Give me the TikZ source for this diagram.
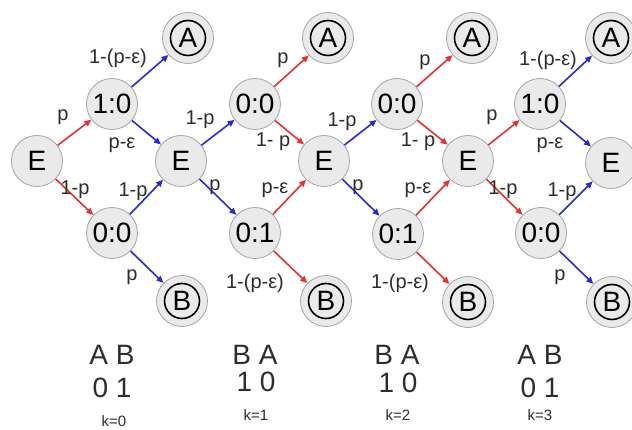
\documentclass[tikz,border=0pt]{standalone}
\usepackage{fontspec}
\setmainfont{Liberation Sans}
\usetikzlibrary{arrows.meta}
\definecolor{ered}{RGB}{232,48,48}
\definecolor{eblue}{RGB}{40,40,228}
\definecolor{nfill}{RGB}{234,234,234}
\definecolor{nedge}{RGB}{165,165,165}
\definecolor{ltxt}{RGB}{45,45,45}
\begin{document}
\begin{tikzpicture}[x=1pt,y=-1pt,
  st/.style={circle,draw=nedge,fill=nfill,line width=0.8pt,minimum size=51pt,inner sep=0pt,font=\fontsize{28}{28}\selectfont},
  term/.style={st,path picture={\draw[black,line width=1.6pt] (path picture bounding box.center) circle (17.5pt);}},
  redarr/.style={draw=ered,line width=1.6pt,-{Triangle[length=7pt,width=6pt]}},
  bluearr/.style={draw=eblue,line width=1.6pt,-{Triangle[length=7pt,width=6pt]}},
  lbl/.style={font=\fontsize{20}{20}\selectfont,text=ltxt,inner sep=0pt},
  big/.style={font=\fontsize{28}{28}\selectfont,text=ltxt,inner sep=0pt},
  kk/.style={font=\fontsize{15}{15}\selectfont,text=ltxt,inner sep=0pt}]
\fill[white] (0,0) rectangle (632,430);
\useasboundingbox (0,0) rectangle (632,430);
% nodes
\node[st] (E0) at (37,161) {E};
\node[st] (T0) at (112,104) {1:0};
\node[st] (D0) at (112,233) {0:0};
\node[term] (A0) at (188,38) {A};
\node[term] (B0) at (182,301) {B};
\node[st] (E1) at (181,161) {E};
\node[st] (T1) at (255,104) {0:0};
\node[st] (D1) at (255,233) {0:1};
\node[term] (A1) at (328,38) {A};
\node[term] (B1) at (326,301) {B};
\node[st] (E2) at (324,161) {E};
\node[st] (T2) at (397,104) {0:0};
\node[st] (D2) at (398,234) {0:1};
\node[term] (A2) at (472,38) {A};
\node[term] (B2) at (468,302) {B};
\node[st] (E3) at (468,161) {E};
\node[st] (T3) at (540,104) {1:0};
\node[st] (D3) at (541,233) {0:0};
\node[term] (A3) at (611,38) {A};
\node[term] (B3) at (612,302) {B};
\node[st] (E4) at (611,163) {E};
% segment 0
\draw[redarr] (E0) -- (T0);
\draw[redarr] (E0) -- (D0);
\draw[bluearr] (T0) -- (A0);
\draw[bluearr] (T0) -- (E1);
\draw[bluearr] (D0) -- (E1);
\draw[bluearr] (D0) -- (B0);
% segment 1
\draw[bluearr] (E1) -- (T1);
\draw[bluearr] (E1) -- (D1);
\draw[redarr] (T1) -- (A1);
\draw[redarr] (T1) -- (E2);
\draw[redarr] (D1) -- (E2);
\draw[redarr] (D1) -- (B1);
% segment 2
\draw[bluearr] (E2) -- (T2);
\draw[bluearr] (E2) -- (D2);
\draw[redarr] (T2) -- (A2);
\draw[redarr] (T2) -- (E3);
\draw[redarr] (D2) -- (E3);
\draw[redarr] (D2) -- (B2);
% segment 3
\draw[redarr] (E3) -- (T3);
\draw[redarr] (E3) -- (D3);
\draw[bluearr] (T3) -- (A3);
\draw[bluearr] (T3) -- (E4);
\draw[bluearr] (D3) -- (E4);
\draw[bluearr] (D3) -- (B3);
% labels
\node[lbl] (l1) at (63,117) {p};
\node[lbl] (l2) at (75,190) {1-p};
\node[lbl] (l3) at (118,58) {1-(p-ε)};
\node[lbl] (l4) at (122,145) {p-ε};
\node[lbl] (l5) at (133,192) {1-p};
\node[lbl] (l6) at (132,277) {p};
\node[lbl] (l7) at (200,120) {1-p};
\node[lbl] (l8) at (215,187) {p};
\node[lbl] (l9) at (283,60) {p};
\node[lbl] (l10) at (273,142) {1- p};
\node[lbl] (l11) at (275,190) {p-ε};
\node[lbl] (l12) at (255,283) {1-(p-ε)};
\node[lbl] (l13) at (342,122) {1-p};
\node[lbl] (l14) at (358,187) {p};
\node[lbl] (l15) at (425,62) {p};
\node[lbl] (l16) at (418,142) {1- p};
\node[lbl] (l17) at (418,190) {p-ε};
\node[lbl] (l18) at (400,283) {1-(p-ε)};
\node[lbl] (l19) at (492,117) {p};
\node[lbl] (l20) at (503,190) {1-p};
\node[lbl] (l21) at (548,60) {1-(p-ε)};
\node[lbl] (l22) at (550,145) {p-ε};
\node[lbl] (l23) at (562,192) {1-p};
\node[lbl] (l24) at (560,277) {p};
% bottom
\node[big] (h0) at (112,355) {A B};
\node[big] (n0) at (112,388) {0 1};
\node[kk] (k0) at (114,421) {k=0};
\node[big] (h1) at (255,355) {B A};
\node[big] (n1) at (256,382) {1 0};
\node[kk] (k1) at (256,415) {k=1};
\node[big] (h2) at (397,355) {B A};
\node[big] (n2) at (398,383) {1 0};
\node[kk] (k2) at (398,415) {k=2};
\node[big] (h3) at (540,355) {A B};
\node[big] (n3) at (540,388) {0 1};
\node[kk] (k3) at (540,415) {k=3};
\end{tikzpicture}
\end{document}
